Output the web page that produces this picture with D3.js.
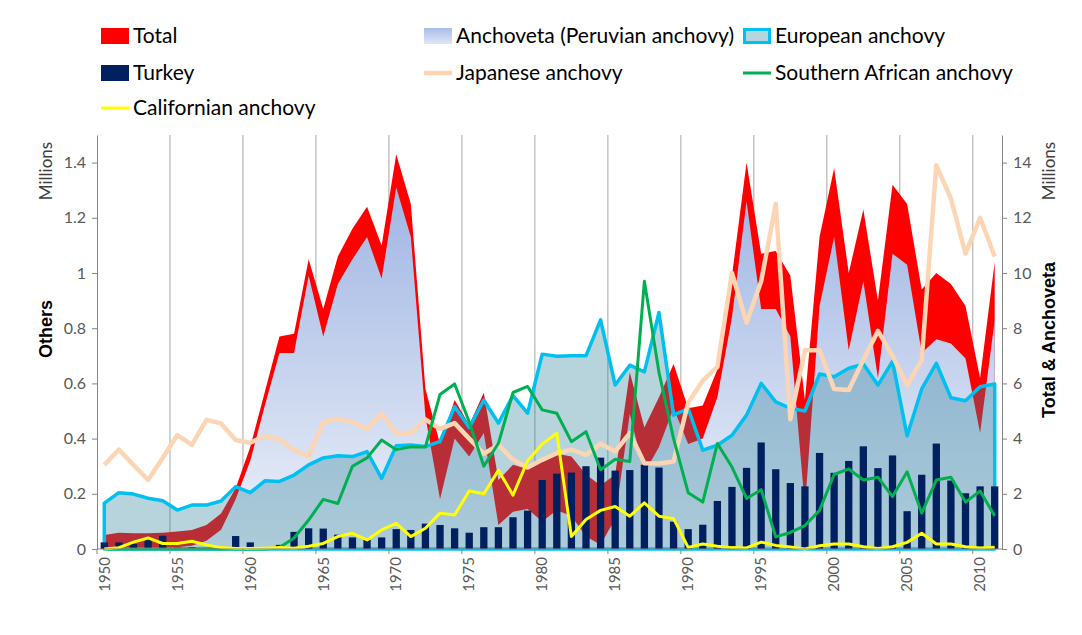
<!DOCTYPE html>
<html>
<head>
<meta charset="utf-8">
<script src="https://cdn.jsdelivr.net/npm/d3@7"></script>
<style>
  body { margin: 0; background: #fff; }
  text { font-family: Lato, "Open Sans", sans-serif; }
</style>
</head>
<body>
<svg id="chart" width="1082" height="635"></svg>
<script>
// Catch data, million tonnes
const years = d3.range(1950, 2012);

// right axis (Total & Anchoveta)
const total = [0.51, 0.59, 0.57, 0.57, 0.59, 0.63, 0.69, 0.87, 1.29, 2.2,
  3.7, 5.7, 7.7, 7.8, 10.5, 8.7, 10.6, 11.6, 12.4, 11.0,
  14.3, 12.5, 5.8, 3.8, 5.4, 4.5, 5.66, 2.5, 3.05, 2.9,
  3.2, 3.45, 3.35, 2.7, 2.3, 2.7, 6.4, 4.4, 5.5, 6.7,
  5.1, 5.2, 6.5, 9.9, 14.0, 10.7, 10.8, 9.9, 5.4, 11.3,
  13.8, 10.0, 12.3, 9.0, 13.2, 12.5, 9.4, 10.0, 9.6, 8.8,
  6.2, 10.4];
const anchoveta = [0, 0, 0.02, 0.03, 0.04, 0.06, 0.12, 0.3, 0.7, 1.8,
  3.2, 5.2, 7.1, 7.1, 9.9, 7.7, 9.6, 10.5, 11.3, 9.8,
  13.1, 11.3, 4.8, 1.8, 4.0, 3.35, 4.2, 0.87, 1.35, 1.45,
  1.0, 1.4, 1.2, 0.45, 0.15, 1.1, 4.9, 2.75, 3.7, 5.1,
  3.8, 4.0, 5.5, 8.4, 12.6, 8.7, 8.7, 7.7, 1.5, 8.8,
  11.3, 7.2, 9.7, 6.2, 10.7, 10.3, 7.1, 7.6, 7.45, 6.9,
  4.2, 8.3];

// left axis (Others)
const european = [0.166, 0.204, 0.199, 0.184, 0.175, 0.141, 0.159, 0.159, 0.174, 0.226,
  0.204, 0.247, 0.245, 0.268, 0.305, 0.33, 0.338, 0.335, 0.353, 0.256,
  0.374, 0.377, 0.371, 0.39, 0.516, 0.44, 0.54, 0.456, 0.556, 0.492,
  0.706, 0.698, 0.70, 0.70, 0.83, 0.594, 0.666, 0.642, 0.857, 0.485,
  0.509, 0.358, 0.376, 0.412, 0.485, 0.60, 0.533, 0.51, 0.50, 0.634,
  0.624, 0.655, 0.67, 0.594, 0.68, 0.41, 0.58, 0.673, 0.548, 0.537,
  0.588, 0.598];
const turkey = [0.024, 0.024, 0.018, 0.04, 0.048, 0.005, 0.007, 0.004, 0.002, 0.047,
  0.024, 0.0, 0.015, 0.062, 0.075, 0.074, 0.052, 0.042, 0.033, 0.042,
  0.072, 0.069, 0.092, 0.087, 0.075, 0.059, 0.079, 0.079, 0.115, 0.139,
  0.25, 0.273, 0.277, 0.30, 0.331, 0.284, 0.286, 0.305, 0.295, 0.099,
  0.072, 0.088, 0.174, 0.225, 0.294, 0.386, 0.289, 0.239, 0.227, 0.348,
  0.276, 0.319, 0.372, 0.293, 0.339, 0.137, 0.269, 0.382, 0.248, 0.202,
  0.227, 0.227];
const japanese = [0.305, 0.36, 0.305, 0.25, 0.33, 0.413, 0.377, 0.468, 0.455, 0.395,
  0.385, 0.41, 0.397, 0.358, 0.336, 0.46, 0.472, 0.46, 0.435, 0.49,
  0.42, 0.42, 0.47, 0.435, 0.456, 0.40, 0.345, 0.377, 0.323, 0.295,
  0.323, 0.347, 0.36, 0.341, 0.381, 0.353, 0.42, 0.311, 0.31, 0.317,
  0.53, 0.61, 0.66, 1.0, 0.82, 0.97, 1.25, 0.47, 0.72, 0.72,
  0.58, 0.576, 0.685, 0.79, 0.70, 0.594, 0.685, 1.39, 1.27, 1.07,
  1.2, 1.06];
const southern = [0, 0, 0, 0, 0, 0, 0, 0, 0, 0,
  0, 0, 0.005, 0.04, 0.105, 0.18, 0.165, 0.30, 0.33, 0.395,
  0.36, 0.37, 0.37, 0.56, 0.598, 0.46, 0.30, 0.383, 0.567, 0.589,
  0.504, 0.492, 0.389, 0.425, 0.287, 0.325, 0.317, 0.97, 0.64, 0.40,
  0.204, 0.17, 0.382, 0.297, 0.183, 0.215, 0.044, 0.06, 0.085, 0.14,
  0.27, 0.29, 0.25, 0.26, 0.19, 0.28, 0.13, 0.25, 0.26, 0.17,
  0.21, 0.12];
const californian = [0, 0.005, 0.025, 0.04, 0.02, 0.02, 0.028, 0.015, 0.005, 0.002,
  0.002, 0.003, 0.005, 0.003, 0.01, 0.02, 0.045, 0.057, 0.033, 0.069,
  0.093, 0.045, 0.075, 0.13, 0.123, 0.21, 0.20, 0.285, 0.195, 0.32,
  0.38, 0.42, 0.045, 0.107, 0.14, 0.154, 0.119, 0.167, 0.119, 0.11,
  0.006, 0.018, 0.01, 0.005, 0.004, 0.025, 0.013, 0.007, 0.0, 0.012,
  0.018, 0.018, 0.008, 0.002, 0.008, 0.024, 0.057, 0.018, 0.018, 0.008,
  0.004, 0.006];

const leftTicks = [0, 0.2, 0.4, 0.6, 0.8, 1, 1.2, 1.4];
const rightTicks = [0, 2, 4, 6, 8, 10, 12, 14];
const labelYears = years.filter(y => y % 5 === 0);

const width = 1082, height = 635;
const plotLeft = 97, plotRight = 1002, plotTop = 135, plotBottom = 549;

const svg = d3.select('#chart');
svg.append('rect').attr('width', width).attr('height', height).attr('fill', '#fff');

const x = d3.scaleBand().domain(years).range([plotLeft, plotRight]);
const cx = y => x(y) + x.bandwidth() / 2;
const yL = d3.scaleLinear().domain([0, 1.5]).range([plotBottom, plotTop]);
const yR = d3.scaleLinear().domain([0, 15]).range([plotBottom, plotTop]);

// gradient for anchoveta
const defs = svg.append('defs');
const grad = defs.append('linearGradient').attr('id', 'anchGrad')
  .attr('gradientUnits', 'userSpaceOnUse')
  .attr('x1', 0).attr('x2', 0).attr('y1', yR(13.5)).attr('y2', plotBottom);
grad.append('stop').attr('offset', 0).attr('stop-color', '#9db3e2');
grad.append('stop').attr('offset', 1).attr('stop-color', '#eef2fa');
const gradL = defs.append('linearGradient').attr('id', 'anchGradLeg')
  .attr('x1', 0).attr('x2', 0).attr('y1', 0).attr('y2', 1);
gradL.append('stop').attr('offset', 0).attr('stop-color', '#a9bde8');
gradL.append('stop').attr('offset', 1).attr('stop-color', '#dfe6f6');

// vertical gridlines every 5 years
svg.append('g').selectAll('line')
  .data(labelYears.filter(y => y > 1950))
  .join('line')
  .attr('x1', d => x(d)).attr('x2', d => x(d))
  .attr('y1', plotTop).attr('y2', plotBottom)
  .attr('stroke', '#a6a6a6').attr('stroke-width', 1);

const idx = d3.range(years.length);

// Total (red) area, right axis
svg.append('path')
  .datum(idx)
  .attr('fill', '#ff0000')
  .attr('d', d3.area().x(i => cx(years[i])).y0(yR(0)).y1(i => yR(total[i])));

// Anchoveta area, right axis
svg.append('path')
  .datum(idx)
  .attr('fill', 'url(#anchGrad)')
  .attr('d', d3.area().x(i => cx(years[i])).y0(yR(0)).y1(i => yR(anchoveta[i])));

// European anchovy area, left axis (semi-transparent)
svg.append('path')
  .datum(idx)
  .attr('fill', 'rgba(49,133,155,0.35)')
  .attr('stroke', '#00c0f0')
  .attr('stroke-width', 3.5)
  .attr('stroke-linejoin', 'round')
  .attr('d', d3.area().x(i => cx(years[i])).y0(yL(0)).y1(i => yL(european[i])));

// Turkey bars
const bw = x.bandwidth() * 0.5;
svg.append('g').selectAll('rect')
  .data(idx)
  .join('rect')
  .attr('x', i => cx(years[i]) - bw / 2)
  .attr('width', bw)
  .attr('y', i => yL(turkey[i]))
  .attr('height', i => yL(0) - yL(turkey[i]))
  .attr('fill', '#002060');

// lines
const lineOf = arr => d3.line().x(i => cx(years[i])).y(i => yL(arr[i]));
const lines = [
  { data: japanese, color: '#fcd5b4', w: 4.5 },
  { data: southern, color: '#00b050', w: 3 },
  { data: californian, color: '#ffff00', w: 3 }
];
lines.forEach(s => {
  svg.append('path')
    .datum(idx)
    .attr('fill', 'none')
    .attr('stroke', s.color)
    .attr('stroke-width', s.w)
    .attr('stroke-linejoin', 'round')
    .attr('d', lineOf(s.data));
});

// axes
const axisColor = '#868686', labelColor = '#595959';

const xAxis = svg.append('g').attr('transform', `translate(0,${plotBottom})`);
xAxis.append('line').attr('x1', plotLeft).attr('x2', plotRight)
  .attr('stroke', axisColor);
xAxis.selectAll('line.tick')
  .data(labelYears)
  .join('line').attr('class', 'tick')
  .attr('x1', d => x(d)).attr('x2', d => x(d))
  .attr('y1', 0).attr('y2', 5).attr('stroke', axisColor);
xAxis.selectAll('text')
  .data(labelYears)
  .join('text')
  .attr('transform', d => `translate(${cx(d)},8) rotate(-90)`)
  .attr('dy', '0.35em')
  .attr('text-anchor', 'end')
  .attr('fill', labelColor)
  .style('font-size', '15px')
  .text(d => d);

const fmt = d3.format('.1~f');
const leftAxis = svg.append('g')
  .attr('transform', `translate(${plotLeft},0)`)
  .call(d3.axisLeft(yL).tickValues(leftTicks).tickSize(5).tickSizeOuter(0).tickPadding(6).tickFormat(fmt));
const rightAxis = svg.append('g')
  .attr('transform', `translate(${plotRight},0)`)
  .call(d3.axisRight(yR).tickValues(rightTicks).tickSize(5).tickSizeOuter(0).tickPadding(6));
[leftAxis, rightAxis].forEach(a => {
  a.select('.domain').attr('stroke', axisColor);
  a.selectAll('.tick line').attr('stroke', axisColor);
  a.selectAll('.tick text').attr('fill', labelColor)
    .style('font-size', '16px').style('font-family', 'Lato, sans-serif');
});

// axis titles
function vText(tx, ty, str, size, bold, color) {
  svg.append('text')
    .attr('transform', `translate(${tx},${ty}) rotate(-90)`)
    .attr('text-anchor', 'middle')
    .attr('dy', '0.35em')
    .attr('fill', color)
    .style('font-size', size + 'px')
    .style('font-weight', bold ? 'bold' : 'normal')
    .style('font-family', bold ? '"Liberation Sans", Arial, sans-serif' : 'Lato, sans-serif')
    .text(str);
}
vText(46, 171, 'Millions', 17, false, '#404040');
vText(1049, 171, 'Millions', 17, false, '#404040');
vText(46, 329, 'Others', 18, true, '#000');
vText(1049, 340, 'Total & Anchoveta', 18, true, '#000');

// legend
const legend = svg.append('g');
const legItems = [
  { label: 'Total', x: 101, y: 36, type: 'rect', fill: '#ff0000' },
  { label: 'Anchoveta (Peruvian anchovy)', x: 424, y: 36, type: 'rect', fill: 'url(#anchGradLeg)' },
  { label: 'European anchovy', x: 743, y: 36, type: 'rect', fill: '#b7d5dd', stroke: '#00c0f0' },
  { label: 'Turkey', x: 101, y: 73, type: 'rect', fill: '#002060' },
  { label: 'Japanese anchovy', x: 424, y: 73, type: 'line', color: '#fcd5b4', w: 4.5 },
  { label: 'Southern African anchovy', x: 743, y: 73, type: 'line', color: '#00b050', w: 3 },
  { label: 'Californian anchovy', x: 101, y: 108, type: 'line', color: '#ffff00', w: 3 }
];
legItems.forEach(d => {
  if (d.type === 'rect') {
    const r = legend.append('rect')
      .attr('x', d.x + (d.stroke ? 1.5 : 0)).attr('y', d.y - 8 + (d.stroke ? 1.5 : 0))
      .attr('width', 28 - (d.stroke ? 3 : 0)).attr('height', 16 - (d.stroke ? 3 : 0))
      .attr('fill', d.fill);
    if (d.stroke) r.attr('stroke', d.stroke).attr('stroke-width', 3);
  } else {
    legend.append('line')
      .attr('x1', d.x).attr('x2', d.x + 28)
      .attr('y1', d.y).attr('y2', d.y)
      .attr('stroke', d.color).attr('stroke-width', d.w);
  }
  legend.append('text')
    .attr('x', d.x + 32).attr('y', d.y)
    .attr('dy', '0.35em')
    .attr('fill', '#000')
    .style('font-size', '21px')
    .text(d.label);
});
</script>
</body>
</html>
